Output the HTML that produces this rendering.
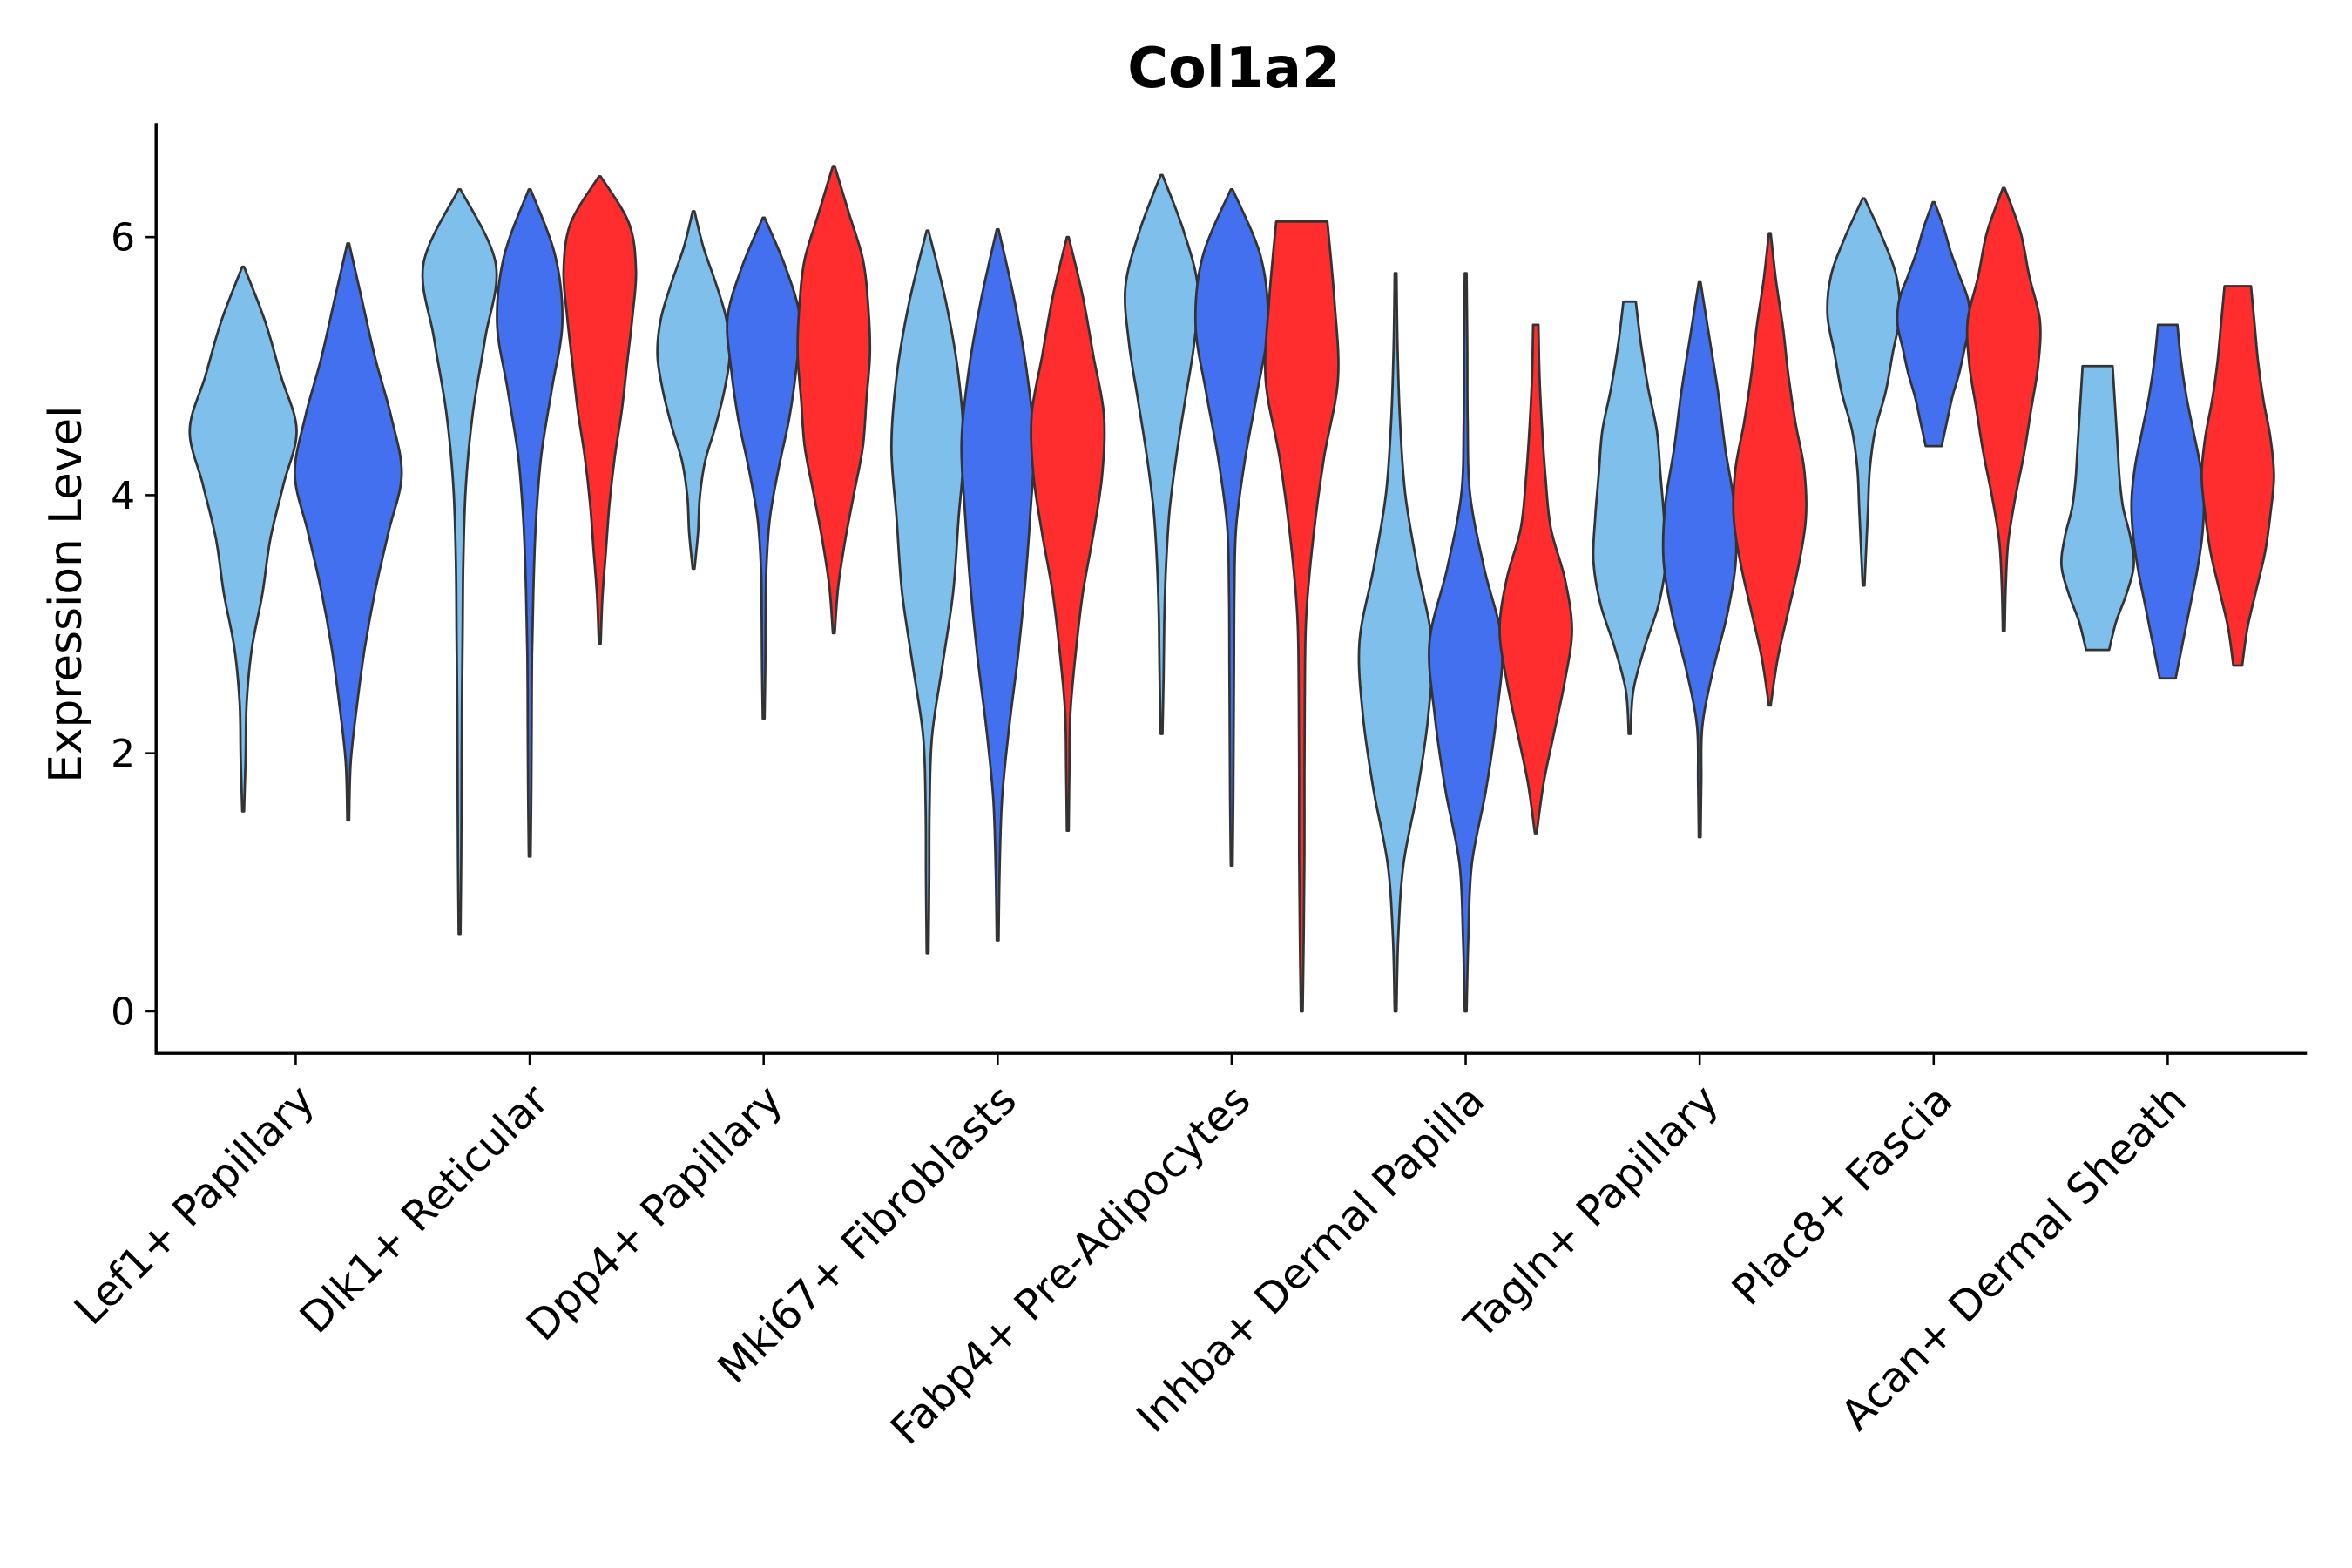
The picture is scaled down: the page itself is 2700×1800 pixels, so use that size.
<!DOCTYPE html>
<html><head><meta charset="utf-8"><style>
html,body{margin:0;padding:0;background:#fff}
svg{display:block}
text{font-family:"DejaVu Sans","Liberation Sans",sans-serif;fill:#000}
</style></head><body>
<svg id="chart" width="2700" height="1800" viewBox="0 0 1567 1045" preserveAspectRatio="none" xmlns="http://www.w3.org/2000/svg">
<text x="822" y="58" text-anchor="middle" font-size="37" font-weight="bold">Col1a2</text>
<text transform="translate(54,396) rotate(-90)" text-anchor="middle" font-size="30">Expression Level</text>
<g id="plot"></g>
</svg>
<script>
const categories=["Lef1+ Papillary","Dlk1+ Reticular","Dpp4+ Papillary","Mki67+ Fibroblasts","Fabp4+ Pre-Adipocytes","Inhba+ Dermal Papilla","Tagln+ Papillary","Plac8+ Fascia","Acan+ Dermal Sheath"];
const yTicks=[0,2,4,6];
const seriesColors=["#7fbfec","#4270ee","#ff2d2d"];
// per group: [lo, hi, relative half-widths evenly spaced from lo to hi]
const lightBlue=[
[1.55,5.77,[0,0.03,0.05,0.15,0.35,0.5,0.75,1.0,0.7,0.4,0]],
[0.6,6.37,[0,0.02,0.03,0.04,0.06,0.08,0.15,0.35,0.7,1.0,0]],
[3.43,6.2,[0,0.1,0.15,0.3,0.6,0.85,1.0,0.9,0.6,0.25,0]],
[0.45,6.05,[0,0.02,0.03,0.1,0.4,0.7,0.85,1.0,0.85,0.5,0]],
[2.15,6.48,[0,0.03,0.05,0.1,0.2,0.4,0.65,0.9,1.0,0.6,0]],
[0,5.72,[0,0.05,0.2,0.6,0.9,1.0,0.6,0.25,0.1,0.03,0]],
[2.15,5.5,[0,0.08,0.4,0.8,1.0,0.95,0.85,0.75,0.5,0.3,0.15]],
[3.3,6.3,[0,0.05,0.1,0.15,0.3,0.6,0.8,1.0,0.9,0.5,0]],
[2.8,5.0,[0.3,0.5,0.8,1.0,0.9,0.7,0.6,0.55,0.5,0.45,0.4]]];
const blue=[
[1.48,5.95,[0,0.03,0.15,0.3,0.5,0.75,1.0,0.8,0.5,0.25,0]],
[1.2,6.37,[0,0.02,0.03,0.04,0.08,0.15,0.3,0.6,0.9,0.7,0]],
[2.27,6.15,[0,0.02,0.03,0.05,0.15,0.4,0.7,0.9,1.0,0.6,0]],
[0.55,6.06,[0,0.03,0.1,0.3,0.55,0.75,0.9,1.0,0.8,0.45,0]],
[1.13,6.37,[0,0.02,0.03,0.04,0.05,0.1,0.35,0.7,1.0,0.8,0]],
[0,5.72,[0,0.05,0.15,0.55,0.85,1.0,0.5,0.1,0.03,0.02,0]],
[1.35,5.65,[0,0.02,0.05,0.35,0.75,1.0,0.95,0.7,0.5,0.25,0]],
[4.38,6.27,[0.2,0.35,0.5,0.7,0.85,1.0,0.95,0.7,0.45,0.25,0]],
[2.58,5.32,[0.2,0.4,0.6,0.8,0.95,1.0,0.9,0.7,0.5,0.35,0.25]]];
const red=[
null,
[2.85,6.47,[0,0.05,0.15,0.25,0.4,0.6,0.75,0.9,1.0,0.8,0]],
[2.93,6.55,[0,0.1,0.3,0.55,0.8,0.9,1.0,0.95,0.8,0.4,0]],
[1.4,6.0,[0,0.02,0.05,0.2,0.4,0.7,0.95,1.0,0.7,0.4,0]],
[0,6.12,[0,0.03,0.05,0.05,0.06,0.1,0.3,0.6,1.0,0.9,0.7]],
[1.38,5.32,[0,0.2,0.5,0.8,1.0,0.8,0.4,0.25,0.15,0.08,0.05]],
[2.37,6.03,[0,0.2,0.5,0.8,1.0,0.95,0.7,0.5,0.35,0.15,0]],
[2.95,6.38,[0,0.03,0.1,0.3,0.55,0.75,0.95,1.0,0.7,0.45,0]],
[2.68,5.62,[0.1,0.25,0.5,0.75,0.9,1.0,0.9,0.7,0.55,0.45,0.35]]];

const NS="http://www.w3.org/2000/svg";
const g=document.getElementById('plot');
const yScale=v=>674-86*v;
const xScale=i=>197+155.9*i;
function mk(tag,attrs){const e=document.createElementNS(NS,tag);for(const k in attrs)e.setAttribute(k,attrs[k]);g.appendChild(e);return e;}
const ax=mk('path',{d:'M104,82 V702 H1537',fill:'none',stroke:'#000','stroke-width':2});


yTicks.forEach(t=>{
  const tk=mk('line',{x1:97,x2:104,y1:yScale(t),y2:yScale(t),stroke:'#000','stroke-width':1.5});
  
  
  const tl=mk('text',{x:90,y:yScale(t)+9,'text-anchor':'end','font-size':25.5});
  tl.textContent=t;
  
  
});
function smooth(pts){
  let d='M'+pts[0][0]+','+pts[0][1];
  for(let i=0;i<pts.length-1;i++){
    const p0=pts[Math.max(i-1,0)],p1=pts[i],p2=pts[i+1],p3=pts[Math.min(i+2,pts.length-1)];
    const c1=[p1[0]+(p2[0]-p0[0])/6,p1[1]+(p2[1]-p0[1])/6];
    const c2=[p2[0]-(p3[0]-p1[0])/6,p2[1]-(p3[1]-p1[1])/6];
    d+=' C'+c1[0].toFixed(2)+','+c1[1].toFixed(2)+' '+c2[0].toFixed(2)+','+c2[1].toFixed(2)+' '+p2[0].toFixed(2)+','+p2[1].toFixed(2);
  }
  return d;
}
function violin(cx,half,v,color,name){
  const lo=v[0],hi=v[1],w=v[2],n=w.length;
  const right=[],left=[];
  for(let k=0;k<n;k++){const val=lo+(hi-lo)*k/(n-1);right.push([cx+w[k]*half+0.6,yScale(val)]);}
  for(let k=n-1;k>=0;k--){const val=lo+(hi-lo)*k/(n-1);left.push([cx-w[k]*half-0.6,yScale(val)]);}
  let d=smooth(right);
  d+=' L'+left[0][0].toFixed(2)+','+left[0][1].toFixed(2);
  d+=smooth(left).replace(/^M[^C]*/,' ');
  d+=' Z';
  const p=mk('path',{d:d,fill:color,stroke:'#333','stroke-width':1.6,'stroke-linejoin':'round'});
  
  
}
categories.forEach((c,i)=>{
  const cx=xScale(i);
  const tk=mk('line',{x1:cx,x2:cx,y1:702,y2:710,stroke:'#000','stroke-width':1.5});
  
  
  const tl=mk('text',{transform:'translate('+(cx+14)+',735) rotate(-45)','text-anchor':'end','font-size':28});
  tl.textContent=c;
  
  
  const groups=[lightBlue[i],blue[i],red[i]].map((v,k)=>v?{v:v,k:k}:null).filter(Boolean);
  const n=groups.length;
  const step=n===2?70:46.7, half=n===2?35:23.5;
  groups.forEach((o,j)=>{
    const x=cx+(j-(n-1)/2)*step;
    violin(x,half,o.v,seriesColors[o.k],'violin-'+i+'-'+o.k);
  });
});
</script>
</body></html>
